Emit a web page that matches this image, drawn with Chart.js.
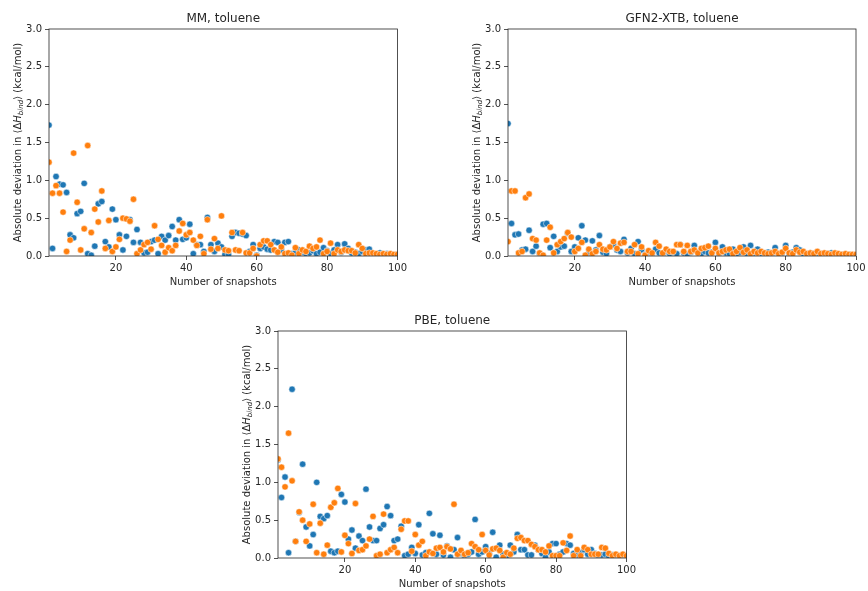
<!DOCTYPE html>
<html>
<head>
<meta charset="utf-8">
<script src="https://cdn.jsdelivr.net/npm/chart.js@4.4.0/dist/chart.umd.min.js"></script>
<style>
  body { margin: 0; background: #fff; width: 868px; height: 591px; position: relative; overflow: hidden; }
  canvas { position: absolute; }
</style>
</head>
<body>
<canvas id="mmChart" width="409" height="295" style="left:0;top:0"></canvas>
<canvas id="gfnChart" width="409" height="295" style="left:459px;top:0"></canvas>
<canvas id="pbeChart" width="409" height="295" style="left:229px;top:302px"></canvas>
<script>
// snapshot count on the x axis (1..100)
const snapshots = Array.from({length: 100}, (_, i) => i + 1);
const xTicks = [20, 40, 60, 80, 100];
const yTicks = [0, 0.5, 1.0, 1.5, 2.0, 2.5, 3.0];

// MM, toluene
const mmBlue = [1.73,0.10,1.05,0.95,0.94,0.84,0.28,0.24,0.56,0.59,
  0.96,0.03,0.01,0.13,0.69,0.72,0.19,0.12,0.62,0.48,
  0.28,0.08,0.26,0.48,0.18,0.35,0.18,0.04,0.05,0.19,
  0.21,0.03,0.26,0.21,0.27,0.39,0.21,0.48,0.22,0.24,
  0.42,0.03,0.15,0.15,0.06,0.51,0.15,0.06,0.17,0.12,
  0.02,0.02,0.26,0.31,0.30,0.29,0.27,0.06,0.15,0.01,
  0.10,0.12,0.09,0.08,0.19,0.18,0.08,0.18,0.19,0.03,
  0.04,0.08,0.05,0.03,0.04,0.07,0.03,0.05,0.11,0.07,
  0.03,0.08,0.15,0.05,0.16,0.10,0.04,0.05,0.03,0.06,
  0.08,0.09,0.03,0.02,0.04,0.02,0.03,0.02,0.01,0.02];
const mmOrange = [1.24,0.83,0.93,0.83,0.58,0.06,0.21,1.36,0.71,0.08,
  0.36,1.46,0.31,0.62,0.45,0.86,0.10,0.47,0.06,0.12,
  0.22,0.50,0.49,0.46,0.75,0.03,0.08,0.15,0.18,0.09,
  0.40,0.22,0.14,0.05,0.11,0.07,0.14,0.33,0.43,0.28,
  0.31,0.21,0.14,0.26,0.03,0.48,0.09,0.23,0.10,0.53,
  0.08,0.07,0.31,0.08,0.07,0.31,0.04,0.04,0.10,0.00,
  0.15,0.20,0.20,0.15,0.08,0.05,0.12,0.03,0.04,0.01,
  0.11,0.03,0.08,0.06,0.13,0.10,0.12,0.21,0.03,0.06,
  0.17,0.03,0.08,0.06,0.08,0.07,0.07,0.04,0.15,0.10,
  0.03,0.04,0.04,0.03,0.02,0.03,0.02,0.03,0.02,0.02];

// GFN2-XTB, toluene
const gfnBlue = [1.75,0.43,0.28,0.29,0.08,0.09,0.34,0.06,0.13,0.03,
  0.42,0.43,0.11,0.26,0.06,0.12,0.13,0.30,0.06,0.12,
  0.24,0.40,0.21,0.04,0.20,0.08,0.27,0.05,0.03,0.12,
  0.15,0.08,0.06,0.22,0.04,0.10,0.03,0.19,0.08,0.02,
  0.05,0.03,0.09,0.04,0.02,0.06,0.03,0.05,0.03,0.15,
  0.04,0.02,0.05,0.14,0.05,0.03,0.06,0.04,0.05,0.18,
  0.03,0.12,0.04,0.03,0.09,0.02,0.05,0.12,0.03,0.14,
  0.04,0.09,0.02,0.03,0.05,0.02,0.11,0.03,0.04,0.14,
  0.02,0.05,0.11,0.08,0.03,0.02,0.04,0.03,0.02,0.03,
  0.02,0.03,0.04,0.02,0.01,0.02,0.01,0.02,0.01,0.01];
const gfnOrange = [0.19,0.86,0.86,0.04,0.06,0.77,0.82,0.23,0.21,0.04,
  0.01,0.21,0.38,0.04,0.15,0.19,0.23,0.31,0.25,0.06,
  0.10,0.18,0.01,0.09,0.03,0.06,0.15,0.09,0.08,0.12,
  0.19,0.10,0.17,0.18,0.06,0.06,0.15,0.03,0.12,0.01,
  0.07,0.04,0.18,0.13,0.04,0.09,0.06,0.06,0.15,0.15,
  0.06,0.14,0.06,0.08,0.04,0.10,0.11,0.13,0.04,0.10,
  0.04,0.06,0.08,0.09,0.03,0.06,0.11,0.05,0.08,0.03,
  0.06,0.04,0.06,0.04,0.03,0.04,0.06,0.03,0.05,0.10,
  0.04,0.03,0.08,0.05,0.06,0.03,0.04,0.03,0.06,0.03,
  0.04,0.03,0.02,0.04,0.03,0.02,0.03,0.02,0.02,0.02];

// PBE, toluene
const pbeBlue = [1.30,0.80,1.07,0.07,2.23,0.22,0.60,1.24,0.41,0.16,
  0.31,1.00,0.55,0.52,0.56,0.09,0.07,0.09,0.84,0.74,
  0.25,0.37,0.13,0.29,0.23,0.91,0.41,0.23,0.23,0.39,
  0.44,0.68,0.56,0.23,0.25,0.42,0.03,0.05,0.14,0.06,
  0.44,0.04,0.07,0.59,0.32,0.05,0.30,0.04,0.16,0.01,
  0.11,0.27,0.06,0.03,0.05,0.08,0.51,0.05,0.08,0.15,
  0.06,0.34,0.01,0.17,0.05,0.03,0.17,0.08,0.31,0.11,
  0.11,0.04,0.04,0.17,0.11,0.06,0.01,0.08,0.19,0.19,
  0.05,0.08,0.19,0.17,0.06,0.04,0.07,0.11,0.05,0.11,
  0.06,0.03,0.04,0.05,0.02,0.04,0.03,0.02,0.03,0.02];
const pbeOrange = [1.31,1.20,0.94,1.65,1.02,0.22,0.61,0.50,0.22,0.45,
  0.71,0.07,0.46,0.05,0.17,0.67,0.73,0.92,0.08,0.30,
  0.19,0.06,0.72,0.10,0.11,0.16,0.25,0.55,0.03,0.05,
  0.58,0.07,0.11,0.14,0.07,0.38,0.49,0.49,0.09,0.31,
  0.17,0.22,0.03,0.08,0.06,0.13,0.14,0.08,0.15,0.12,
  0.71,0.05,0.10,0.05,0.07,0.19,0.15,0.11,0.31,0.10,
  0.04,0.12,0.13,0.10,0.01,0.07,0.05,0.13,0.26,0.27,
  0.23,0.23,0.18,0.15,0.11,0.11,0.08,0.16,0.03,0.03,
  0.03,0.20,0.10,0.29,0.03,0.11,0.03,0.14,0.11,0.05,
  0.05,0.05,0.14,0.13,0.06,0.03,0.05,0.03,0.05,0.03];

const blue = '#1f77b4';
const orange = '#ff7f0e';
const textColor = '#262626';
const fontFamily = '"DejaVu Sans", sans-serif';
const xTitle = 'Number of snapshots';

// titles, spines and the y label with its subscript
const decor = {
  id: 'decor',
  afterDatasetsDraw(chart, args, opts) {
    const ctx = chart.ctx;
    const a = chart.chartArea;
    ctx.save();
    ctx.strokeStyle = textColor;
    ctx.lineWidth = 0.8;
    ctx.strokeRect(a.left, a.top, a.right - a.left, a.bottom - a.top);

    ctx.fillStyle = textColor;
    ctx.textAlign = 'center';
    ctx.textBaseline = 'middle';
    ctx.font = '12px ' + fontFamily;
    ctx.fillText(opts.title, (a.left + a.right) / 2, a.top - 10);
    ctx.font = '10px ' + fontFamily;
    ctx.fillText(xTitle, (a.left + a.right) / 2, a.bottom + 26);

    const parts = [
      {t: 'Absolute deviation in \u27e8\u0394', f: '10px ' + fontFamily, dy: 0},
      {t: 'H', f: 'italic 10px ' + fontFamily, dy: 0},
      {t: 'bind', f: 'italic 7px ' + fontFamily, dy: 2},
      {t: '\u27e9 (kcal/mol)', f: '10px ' + fontFamily, dy: 0}
    ];
    let total = 0;
    parts.forEach(p => { ctx.font = p.f; p.w = ctx.measureText(p.t).width; total += p.w; });
    ctx.translate(a.left - 32, (a.top + a.bottom) / 2);
    ctx.rotate(-Math.PI / 2);
    ctx.textAlign = 'left';
    ctx.textBaseline = 'alphabetic';
    let x = -total / 2;
    parts.forEach(p => {
      ctx.font = p.f;
      ctx.fillText(p.t, x, 3.5 + p.dy);
      x += p.w;
    });
    ctx.restore();
  }
};

function makeChart(id, title, blueVals, orangeVals, padRight) {
  const toPts = vals => snapshots.map((s, i) => ({x: s, y: vals[i]}));
  return new Chart(document.getElementById(id), {
    type: 'scatter',
    data: {
      datasets: [
        {label: 'blue', data: toPts(blueVals), backgroundColor: blue, borderColor: '#fff', borderWidth: 0.5, pointRadius: 3.2, order: 1, clip: 0},
        {label: 'orange', data: toPts(orangeVals), backgroundColor: orange, borderColor: '#fff', borderWidth: 0.5, pointRadius: 3.2, order: 0, clip: 0}
      ]
    },
    options: {
      responsive: false,
      animation: false,
      layout: {padding: {top: 29, right: padRight, left: 0, bottom: 0}},
      plugins: {legend: {display: false}, tooltip: {enabled: false}, decor: {title: title}},
      scales: {
        x: {
          type: 'linear', min: 1, max: 100,
          afterBuildTicks: s => { s.ticks = xTicks.map(v => ({value: v})); },
          afterFit: s => { s.height = 39; },
          grid: {drawOnChartArea: false, drawTicks: true, tickLength: 4, color: textColor, lineWidth: 0.8},
          border: {display: false},
          ticks: {color: textColor, font: {family: fontFamily, size: 10}, padding: 2, maxRotation: 0}
        },
        y: {
          type: 'linear', min: 0, max: 3,
          afterBuildTicks: s => { s.ticks = yTicks.map(v => ({value: v})); },
          afterFit: s => { s.width = 49; },
          grid: {drawOnChartArea: false, drawTicks: true, tickLength: 4, color: textColor, lineWidth: 0.8},
          border: {display: false},
          ticks: {color: textColor, font: {family: fontFamily, size: 10}, padding: 3, callback: v => v.toFixed(1)}
        }
      }
    },
    plugins: [decor]
  });
}

makeChart('mmChart', 'MM, toluene', mmBlue, mmOrange, 10.5);
makeChart('gfnChart', 'GFN2-XTB, toluene', gfnBlue, gfnOrange, 12);
makeChart('pbeChart', 'PBE, toluene', pbeBlue, pbeOrange, 10);
</script>
</body>
</html>
